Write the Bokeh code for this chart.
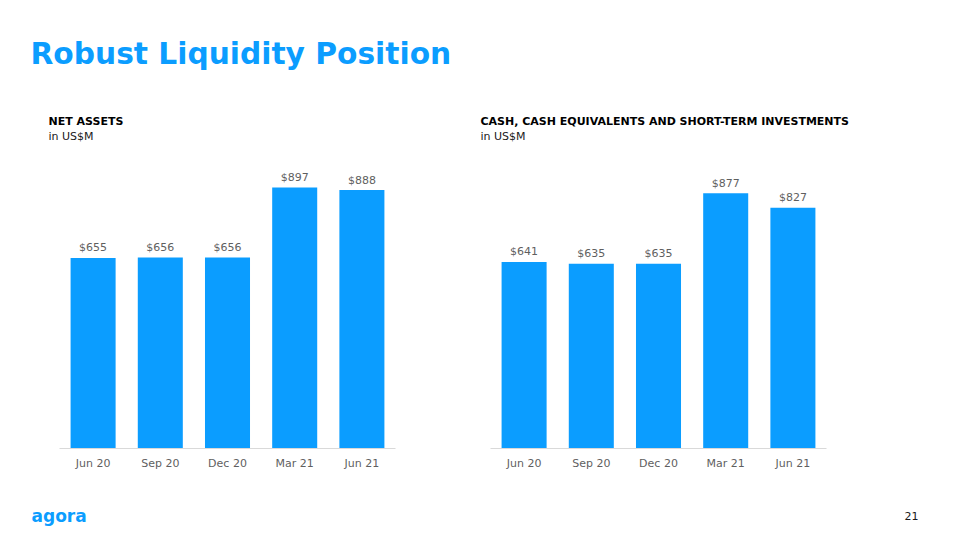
from bokeh.plotting import figure
from bokeh.layouts import row, column
from bokeh.models import ColumnDataSource, Range1d, FactorRange
from bokeh.core.properties import value
from bokeh.embed import file_html
from bokeh.resources import INLINE

quarters = ["Jun 20", "Sep 20", "Dec 20", "Mar 21", "Jun 21"]
net_assets = [655, 656, 656, 897, 888]
cash_investments = [641, 635, 635, 877, 827]

page_title = "Robust Liquidity Position"
left_title = "NET ASSETS"
right_title = "CASH, CASH EQUIVALENTS AND SHORT-TERM INVESTMENTS"
unit_text = "in US$M"
page_number = "21"
logo_text = "agora"

BLUE = "#0b9dff"
GRAY = "#5f5f5f"
FONT = "DejaVu Sans"


def strip(height, top):
    p = figure(width=960, height=height,
               x_range=Range1d(0, 960), y_range=Range1d(top + height, top),
               x_axis_type=None, y_axis_type=None,
               min_border=0, output_backend="svg", toolbar_location=None)
    p.xgrid.grid_line_color = None
    p.ygrid.grid_line_color = None
    p.outline_line_color = None
    return p


def put(p, x, y, text, size, bold=False, color="#000000", align="left"):
    p.text(x=[x], y=[y], text=[text], text_font=value(FONT), text_font_size=size,
           text_font_style="bold" if bold else "normal", text_color=color,
           text_baseline="alphabetic", text_align=align)


def make_chart(values, border_left, border_right):
    src = ColumnDataSource(dict(
        q=quarters,
        v=values,
        lab=["$%d" % v for v in values],
    ))
    p = figure(
        x_range=FactorRange(*quarters, range_padding=0),
        y_range=Range1d(0, 1024),
        width=480, height=340,
        min_border_left=border_left, min_border_right=border_right,
        min_border_top=0, min_border_bottom=42,
        output_backend="svg", toolbar_location=None,
    )
    p.vbar(x="q", top="v", width=0.67, source=src, color=BLUE, line_color=None)
    p.text(x="q", y="v", text="lab", source=src, text_align="center",
           text_baseline="alphabetic", y_offset=-10, text_font=value(FONT),
           text_font_size="11px", text_color=GRAY)
    p.yaxis.visible = False
    p.xgrid.grid_line_color = None
    p.ygrid.grid_line_color = None
    p.outline_line_color = None
    ax = p.xaxis[0]
    ax.axis_line_color = "#d9d9d9"
    ax.axis_line_width = 1
    ax.major_tick_line_color = None
    ax.minor_tick_line_color = None
    ax.major_tick_out = 0
    ax.major_tick_in = 0
    ax.major_label_standoff = 8
    ax.major_label_text_font = FONT
    ax.major_label_text_font_size = "11px"
    ax.major_label_text_color = GRAY
    return p


header = strip(150, 0)
put(header, 30, 53, page_title, "29.7px", bold=True, color=BLUE)
put(header, 48, 121, left_title, "11px", bold=True)
put(header, 48, 135.5, unit_text, "11px", color="#1a1a1a")
put(header, 480, 121, right_title, "11px", bold=True)
put(header, 480, 135.5, unit_text, "11px", color="#1a1a1a")

left = make_chart(net_assets, 59, 85)
right = make_chart(cash_investments, 10, 134)

footer = strip(50, 490)
put(footer, 31, 515, logo_text, "17px", bold=True, color=BLUE)
put(footer, 918, 515, page_number, "11px", color="#1a1a1a", align="right")

layout = column(header, row(left, right, spacing=0), footer, spacing=0)
open("out.html", "w").write(file_html(layout, INLINE))
